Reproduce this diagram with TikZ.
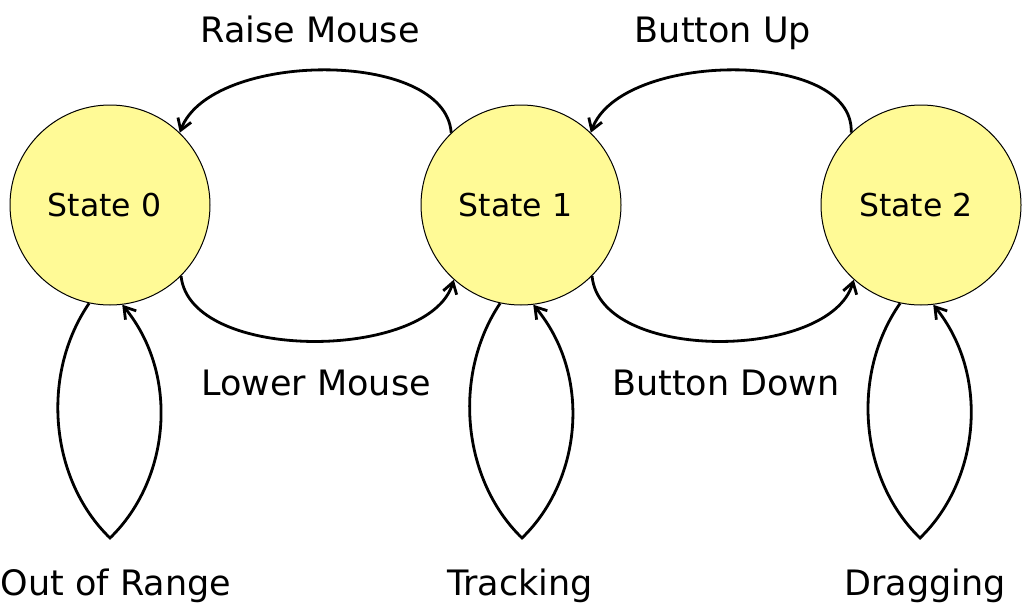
\documentclass[tikz,border=0pt]{standalone}
\usepackage{fontspec}
\setmainfont{DejaVu Sans}
\usetikzlibrary{arrows.meta}
\definecolor{stfill}{RGB}{255,250,150}
\begin{document}
\begin{tikzpicture}[x=1pt,y=1pt,
  state/.style={circle,draw=black,line width=1pt,fill=stfill,minimum size=200pt,inner sep=0pt,
    font=\fontsize{31.5}{36}\selectfont},
  lbl/.style={anchor=base,inner sep=0pt,font=\fontsize{35}{40}\selectfont},
  arr/.style={line width=2.8pt,-{Straight Barb[length=11pt,width=14pt,line width=2.8pt]}}]
\useasboundingbox (0,0) rectangle (1024,-605);
\node[state] (s0) at (110,-205) {State 0\hspace*{11pt}};
\node[state] (s1) at (521,-205) {State 1\hspace*{11pt}};
\node[state] (s2) at (921,-205) {State 2\hspace*{10pt}};
% transitions
\draw[arr] (s1.134) .. controls (445,-48) and (210,-51) .. (s0.46);
\draw[arr] (s0.-45) .. controls (190,-363) and (430,-361) .. (s1.228);
\draw[arr] (s2.134) .. controls (855,-48) and (620,-51) .. (s1.46);
\draw[arr] (s1.-45) .. controls (600,-363) and (830,-361) .. (s2.228);
% self loops
\coordinate (t0) at (110,-538);
\coordinate (t1) at (522,-538);
\coordinate (t2) at (920,-538);
\draw[arr] (s0.258) .. controls (40,-375) and (50,-480) .. (t0)
  .. controls (170,-480) and (180,-375) .. (s0.277);
\draw[arr] (s1.258) .. controls (452,-375) and (462,-480) .. (t1)
  .. controls (582,-480) and (592,-375) .. (s1.277);
\draw[arr] (s2.258) .. controls (850,-375) and (860,-480) .. (t2)
  .. controls (980,-480) and (990,-375) .. (s2.277);
% labels
\node[lbl] (lraise) at (310,-42.7) {Raise Mouse};
\node[lbl] (lbup) at (723,-42.7) {Button Up};
\node[lbl] (llower) at (316,-395) {Lower Mouse};
\node[lbl] (lbdown) at (726,-395) {Button Down};
\node[lbl] (lout) at (116,-595) {Out of Range};
\node[lbl] (ltrack) at (520,-595) {Tracking};
\node[lbl] (ldrag) at (925,-595) {Dragging};
\end{tikzpicture}
\end{document}
